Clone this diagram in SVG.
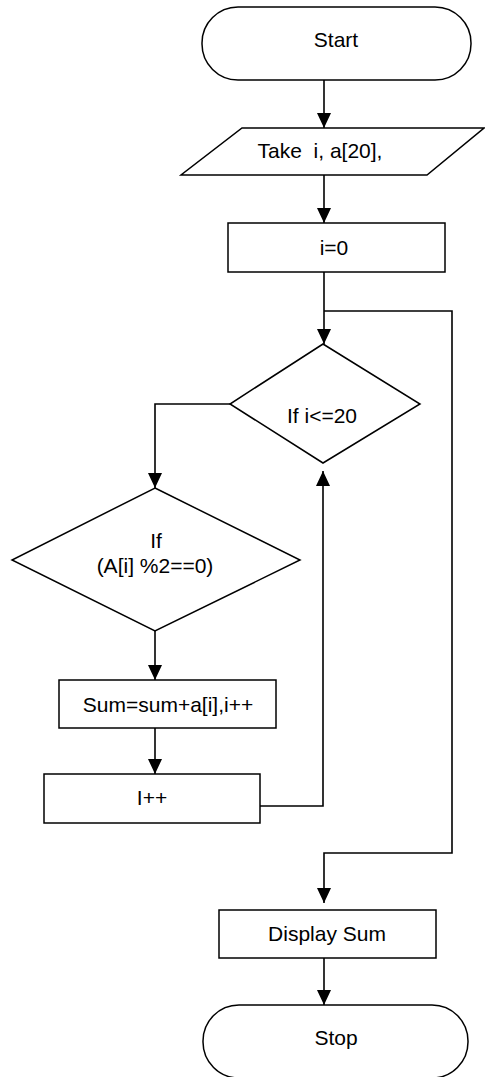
<svg xmlns="http://www.w3.org/2000/svg" width="485" height="1077" viewBox="0 0 485 1077">
  <style>
    .shape { fill: #ffffff; stroke: #000000; stroke-width: 1.5; }
    .link { fill: none; stroke: #000000; stroke-width: 1.6; }
    .label { font-family: "Liberation Sans", Arial, sans-serif; font-size: 21px; fill: #000000; text-anchor: middle; }
  </style>
  <defs>
    <marker id="arrow" markerUnits="userSpaceOnUse" markerWidth="15" markerHeight="14" refX="15" refY="7" orient="auto">
      <path d="M0,0 L15,7 L0,14 z" fill="#000000"/>
    </marker>
  </defs>

  <rect width="485" height="1077" fill="#ffffff"/>

  <!-- connectors -->
  <g id="connectors">
    <path class="link" d="M324,80 L324,128" marker-end="url(#arrow)"/>
    <path class="link" d="M324,175 L324,223" marker-end="url(#arrow)"/>
    <path class="link" d="M324,272 L324,344" marker-end="url(#arrow)"/>
    <path class="link" d="M324,311 L452,311 L452,853 L324,853 L324,903" marker-end="url(#arrow)"/>
    <path class="link" d="M230,404 L155,404 L155,488" marker-end="url(#arrow)"/>
    <path class="link" d="M155,631 L155,680" marker-end="url(#arrow)"/>
    <path class="link" d="M155,728 L155,774" marker-end="url(#arrow)"/>
    <path class="link" d="M260,806 L323,806 L323,471" marker-end="url(#arrow)"/>
    <path class="link" d="M324,958 L324,1005" marker-end="url(#arrow)"/>
  </g>

  <g id="start">
    <rect class="shape" x="202" y="7" width="269" height="73" rx="36" ry="36"/>
    <text class="label" x="336" y="47">Start</text>
  </g>

  <g id="input">
    <polygon class="shape" points="242,128 484,128 427,175 181,175"/>
    <text class="label" x="320" y="158" xml:space="preserve">Take  i, a[20],</text>
  </g>

  <g id="init">
    <rect class="shape" x="228" y="223" width="217" height="49"/>
    <text class="label" x="334" y="255">i=0</text>
  </g>

  <g id="loop-check">
    <polygon class="shape" points="323,344 420,404 323,463 230,404"/>
    <text class="label" x="322" y="423">If i&lt;=20</text>
  </g>

  <g id="even-check">
    <polygon class="shape" points="155,488 300,560 155,631 12,560"/>
    <text class="label" x="156" y="548">If</text>
    <text class="label" x="155" y="573">(A[i] %2==0)</text>
  </g>

  <g id="accumulate">
    <rect class="shape" x="59" y="680" width="217" height="48"/>
    <text class="label" x="168" y="712">Sum=sum+a[i],i++</text>
  </g>

  <g id="increment">
    <rect class="shape" x="44" y="774" width="216" height="49"/>
    <text class="label" x="152" y="805">I++</text>
  </g>

  <g id="display">
    <rect class="shape" x="219" y="910" width="217" height="48"/>
    <text class="label" x="327" y="941">Display Sum</text>
  </g>

  <g id="stop">
    <rect class="shape" x="203" y="1005" width="265" height="73" rx="36" ry="36"/>
    <text class="label" x="336" y="1045">Stop</text>
  </g>
</svg>
